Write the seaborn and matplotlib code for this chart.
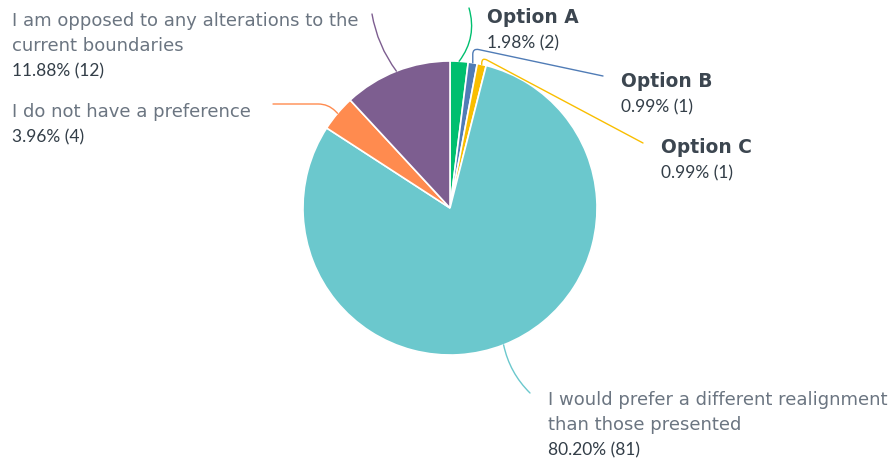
import matplotlib
matplotlib.use('Agg')
import matplotlib.pyplot as plt
import seaborn as sns
import numpy as np

# 1. 資料
categories = [
    'Option A',
    'Option B',
    'Option C',
    'I would prefer a different realignment\nthan those presented',
    'I do not have a preference',
    'I am opposed to any alterations to the\ncurrent boundaries',
]
counts = [2, 1, 1, 81, 4, 12]
pct_labels = ['1.98%', '0.99%', '0.99%', '80.20%', '3.96%', '11.88%']
colors = ['#00BF6F', '#507CB6', '#F9BE00', '#6BC8CD', '#FF8B4F', '#7D5E90']

# ---------------------------------------------------------
# 樣式設定
sns.set_theme(style='white')
plt.rcParams['font.family'] = ['Lato', 'DejaVu Sans']

W, H = 893, 459
fig = plt.figure(figsize=(W / 100, H / 100), dpi=100)
ax = fig.add_axes([0, 0, 1, 1])

cx, cy, r = 450, 208, 147
# y 軸反轉 (像素座標)，startangle=-90 + counterclock 在畫面上即為由頂部順時針
wedges, _ = ax.pie(counts, colors=colors, startangle=-90, counterclock=True,
                   center=(cx, cy), radius=r,
                   wedgeprops=dict(edgecolor='white', linewidth=1.2))
ax.set_xlim(0, W)
ax.set_ylim(H, 0)
ax.set_aspect('equal')
ax.axis('off')

name_color = '#6B7581'
pct_color = '#333E48'

# 標籤位置 (x, 第一行 baseline, 是否粗體)
label_pos = [
    (487, 23, True),
    (621, 87, True),
    (661, 153, True),
    (548, 405, False),
    (12, 117, False),
    (12, 26, False),
]
# 引線：終點與連接樣式
leaders = [
    ((469, 8), 'arc3,rad=-0.25'),
    ((603, 76), 'angle,angleA=168,angleB=90,rad=6'),
    ((643, 143), 'angle,angleA=152,angleB=90,rad=6'),
    ((530, 393), 'arc3,rad=-0.15'),
    ((273, 104), 'angle,angleA=0,angleB=135,rad=10'),
    ((372, 14), 'arc3,rad=0.12'),
]

for w, cat, cnt, pct, (lx, ly, bold), (end, cs), col in zip(
        wedges, categories, counts, pct_labels, label_pos, leaders, colors):
    mid = np.deg2rad((w.theta1 + w.theta2) / 2)
    sx = cx + r * np.cos(mid)
    sy = cy + r * np.sin(mid)
    ax.annotate('', xy=(sx, sy), xytext=end,
                arrowprops=dict(arrowstyle='-', color=col, lw=1.0,
                                connectionstyle=cs, shrinkA=0, shrinkB=0))
    lines = cat.split('\n')
    for i, line in enumerate(lines):
        if bold:
            ax.text(lx, ly + 25 * i, line, fontsize=13.4, color='#3C4650',
                    family='DejaVu Sans', fontweight='bold', va='baseline', ha='left')
        else:
            ax.text(lx, ly + 25 * i, line, fontsize=12.95, color=name_color,
                    family='DejaVu Sans', va='baseline', ha='left')
    ax.text(lx, ly + 25 * len(lines), f'{pct} ({cnt})', fontsize=12.5,
            color=pct_color, va='baseline', ha='left')

fig.savefig('out.png', dpi=100, facecolor='white')
